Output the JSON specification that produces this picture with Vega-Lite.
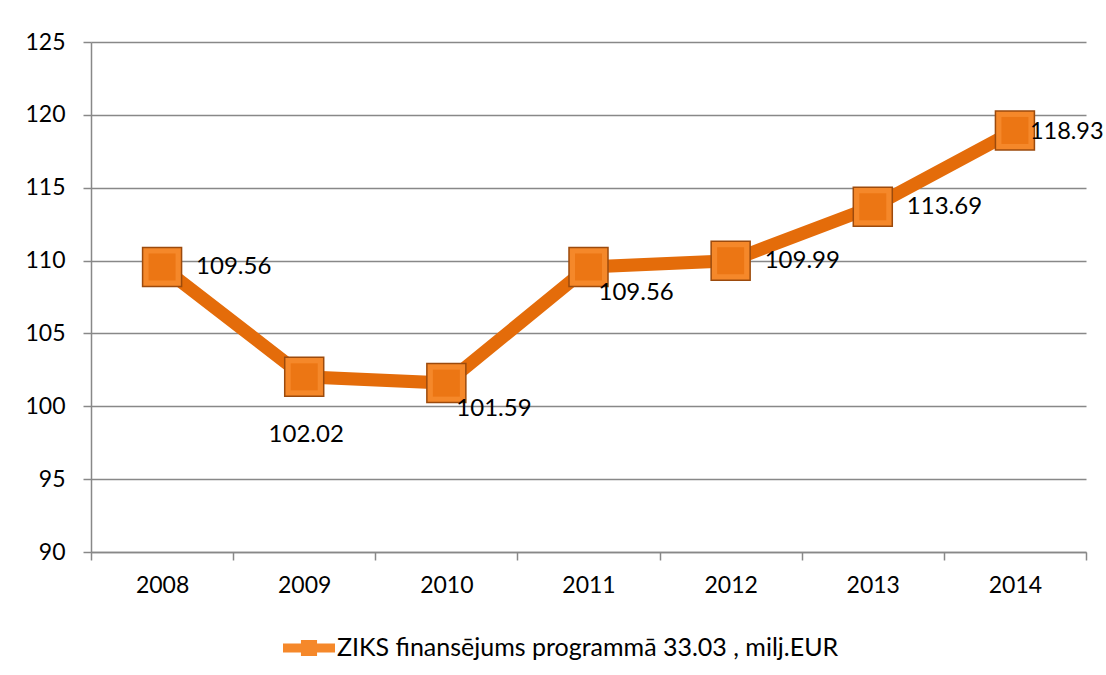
{
  "$schema": "https://vega.github.io/schema/vega-lite/v6.json",
  "autosize": "none",
  "padding": {"left": 91, "top": 42, "right": 20, "bottom": 123},
  "width": 995,
  "height": 510,
  "background": "white",
  "config": {
    "font": "Lato",
    "view": {"stroke": null},
    "axis": {
      "title": null,
      "labelFont": "Lato",
      "labelFontSize": 23,
      "labelColor": "#000000",
      "domainColor": "#888888",
      "domainWidth": 1.5,
      "tickColor": "#888888",
      "tickWidth": 1.5,
      "tickSize": 8,
      "gridColor": "#888888",
      "gridWidth": 1.5
    }
  },
  "data": {
    "values": [
      {"year": "2008", "value": 109.56, "series": "ZIKS finansējums programmā 33.03 , milj.EUR"},
      {"year": "2009", "value": 102.02, "series": "ZIKS finansējums programmā 33.03 , milj.EUR"},
      {"year": "2010", "value": 101.59, "series": "ZIKS finansējums programmā 33.03 , milj.EUR"},
      {"year": "2011", "value": 109.56, "series": "ZIKS finansējums programmā 33.03 , milj.EUR"},
      {"year": "2012", "value": 109.99, "series": "ZIKS finansējums programmā 33.03 , milj.EUR"},
      {"year": "2013", "value": 113.69, "series": "ZIKS finansējums programmā 33.03 , milj.EUR"},
      {"year": "2014", "value": 118.93, "series": "ZIKS finansējums programmā 33.03 , milj.EUR"}
    ]
  },
  "encoding": {
    "x": {
      "field": "year",
      "type": "ordinal",
      "scale": {"type": "band", "paddingInner": 0, "paddingOuter": 0},
      "axis": {"labelAngle": 0, "tickBand": "extent", "labelPadding": 14, "grid": false}
    },
    "y": {
      "field": "value",
      "type": "quantitative",
      "scale": {"domain": [90, 125], "nice": false, "zero": false},
      "axis": {"values": [90, 95, 100, 105, 110, 115, 120, 125], "labelPadding": 18, "grid": true}
    }
  },
  "layer": [
    {
      "mark": {"type": "line", "color": "#E46C0A", "strokeWidth": 13}
    },
    {
      "mark": {"type": "point", "shape": "square", "filled": true, "size": 1521, "stroke": "#9C4A0C", "strokeWidth": 1.5, "opacity": 1},
      "encoding": {
        "color": {
          "field": "series",
          "type": "nominal",
          "scale": {"range": ["#F5882A"]},
          "legend": {
            "title": null,
            "orient": "none",
            "legendX": 192,
            "legendY": 580,
            "symbolType": "M-1,-0.17L-0.31,-0.17L-0.31,-0.31L0.31,-0.31L0.31,-0.17L1,-0.17L1,0.17L0.31,0.17L0.31,0.31L-0.31,0.31L-0.31,0.17L-1,0.17Z",
            "symbolSize": 2704,
            "symbolStrokeWidth": 0,
            "labelFont": "Lato",
            "labelFontSize": 25,
            "labelColor": "#000000",
            "labelOffset": 2,
            "labelLimit": 1000
          }
        }
      }
    },
    {
      "mark": {"type": "point", "shape": "square", "filled": true, "size": 729, "color": "#EC7614", "strokeWidth": 0, "opacity": 1}
    },
    {
      "transform": [{"filter": "indexof(['2008','2012','2013'], datum.year) >= 0"}],
      "mark": {"type": "text", "align": "left", "baseline": "middle", "dx": 34, "fontSize": 24, "color": "#000000"},
      "encoding": {"text": {"field": "value", "type": "quantitative", "format": ".2f"}}
    },
    {
      "transform": [{"filter": "datum.year == '2014'"}],
      "mark": {"type": "text", "align": "left", "baseline": "middle", "dx": 15, "dy": 2, "fontSize": 23.5, "color": "#000000"},
      "encoding": {"text": {"field": "value", "type": "quantitative", "format": ".2f"}}
    },
    {
      "transform": [{"filter": "datum.year == '2010' || datum.year == '2011'"}],
      "mark": {"type": "text", "align": "left", "baseline": "middle", "dx": 10, "dy": 26, "fontSize": 24, "color": "#000000"},
      "encoding": {"text": {"field": "value", "type": "quantitative", "format": ".2f"}}
    },
    {
      "transform": [{"filter": "datum.year == '2009'"}],
      "mark": {"type": "text", "align": "center", "baseline": "middle", "dx": 2, "dy": 58, "fontSize": 24, "color": "#000000"},
      "encoding": {"text": {"field": "value", "type": "quantitative", "format": ".2f"}}
    }
  ]
}
